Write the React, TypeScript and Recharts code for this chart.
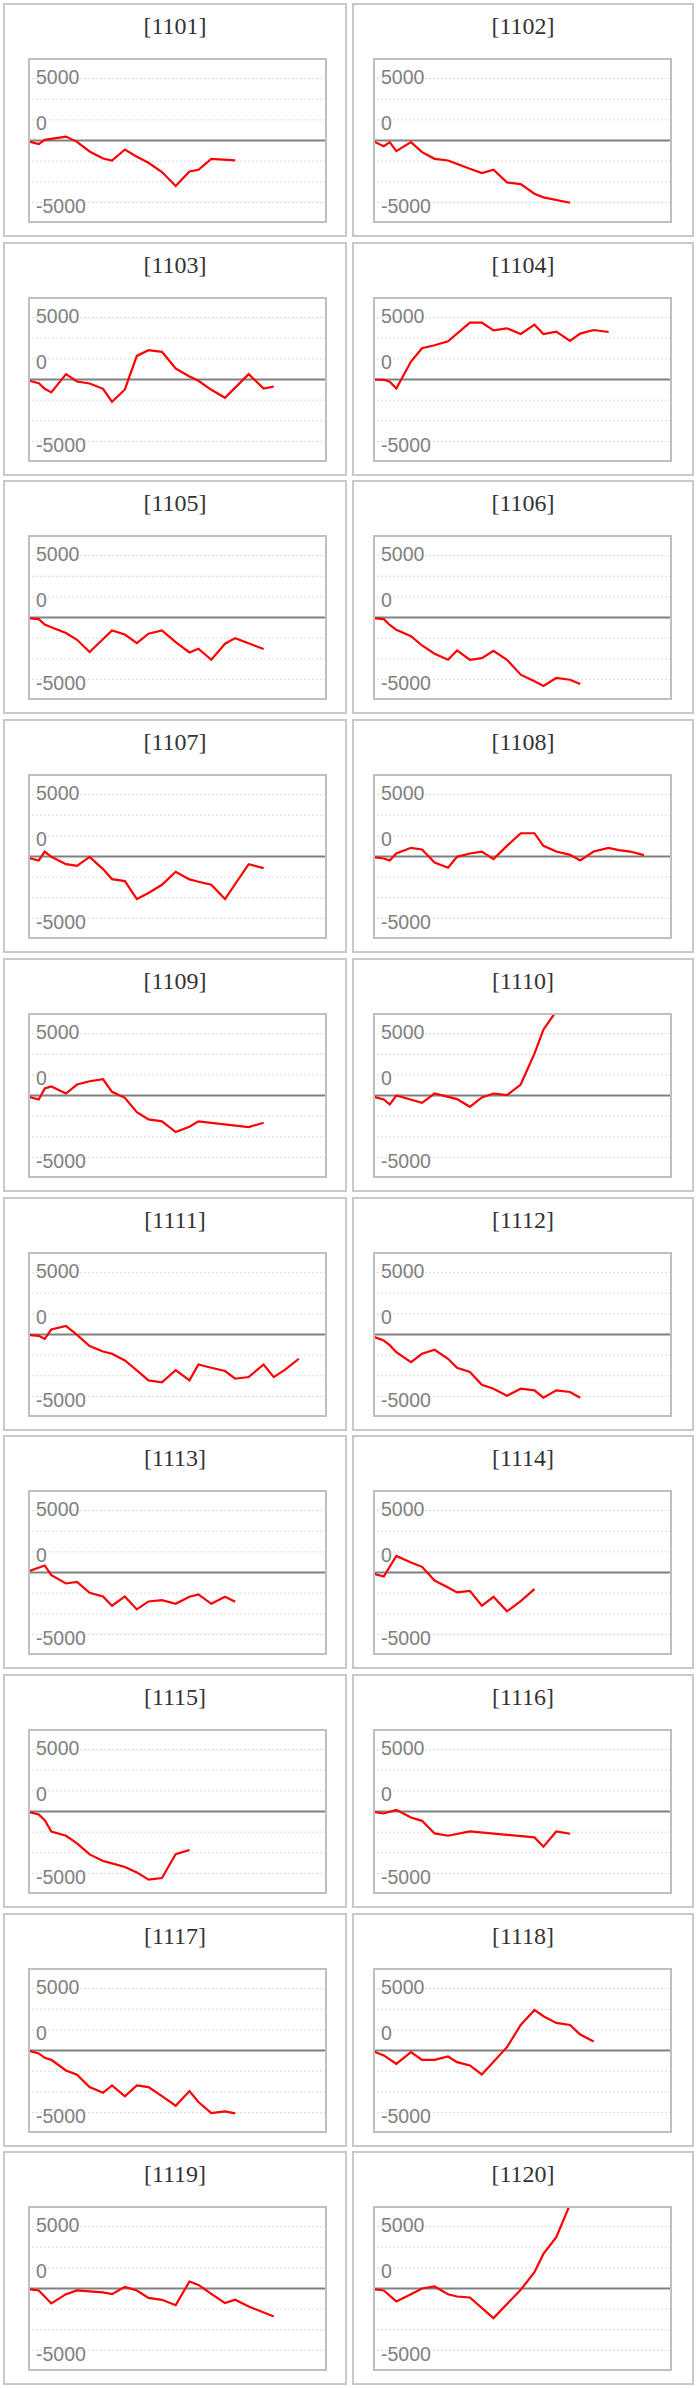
import React from 'react'
import { LineChart, Line, XAxis, YAxis, ReferenceLine } from 'recharts'

// sample times, as a percentage of the plot width
const TIMES = [
  0, 3.6, 5.6, 7.8, 12.7, 16.4, 20.6, 25.1, 28.1, 32.4, 36.4, 40.3,
  44.8, 49.4, 54, 57, 61.3, 65.9, 69.3, 73.8, 78.8, 82.2, 86, 90.6,
]

type V = number | null

const S1101: V[] = [-100, -440, 80, null, 480, -160, -1330, -2180, -2420, -1090, -1970, -2700, -3830, -5520, -3750, -3550, -2220, null, -2420]
const S1102: V[] = [-80, -690, -200, -1290, -200, -1410, -2220, -2420, null, -3430, -3950, -3550, -5080, -5280, -6450, -6890, null, -7540]
const S1103: V[] = [-120, -440, -1130, -1570, 650, -240, -480, -1130, -2700, -1210, 2860, 3550, 3350, 1330, 360, -160, -1250, -2220, null, 650, -1090, -850]
const S1104: V[] = [0, -40, -280, -1090, 2180, 3790, 4150, 4640, null, 6890, 6890, 5960, 6200, 5520, 6650, 5520, 5800, 4670, 5560, 6000, 5760]
const S1105: V[] = [-80, -200, -850, -1170, -1890, -2700, -4190, null, -1570, -2060, -3100, -1970, -1570, -2980, -4230, -3790, -5120, -3180, -2500, null, -3830]
const S1106: V[] = [-80, -200, -900, -1500, -2260, -3390, -4390, -5120, -3990, -5120, -4920, -4030, -5120, -6930, -7740, -8300, -7330, -7540, -8060]
const S1107: V[] = [-160, -480, 600, -40, -930, -1130, -40, -1530, -2740, -2980, -5160, -4430, -3430, -1850, -2780, -3060, -3430, -5160, null, -930, -1410]
const S1108: V[] = [-80, -240, -480, 360, 1050, 850, -730, -1370, -40, 360, 600, -320, 1290, 2820, 2820, 1290, 600, 200, -480, 600, 1050, 770, 600, 160]
const S1109: V[] = [-120, -480, 850, 1090, 240, 1330, 1730, 1970, 440, -280, -2010, -2900, -3140, -4430, -3790, -3140, null, null, null, -3830, -3300]
const S1110: V[] = [-120, -480, -1090, 0, null, -890, 240, -160, -440, -1370, -240, 240, 40, 1330, 5080, 7980, 10240]
const S1111: V[] = [-40, -160, -520, 600, 1050, -40, -1410, -2060, -2340, -3140, -4350, -5560, -5800, -4310, -5560, -3630, -4030, -4430, -5360, -5160, -3630, -5160, -4270, -2940]
const S1112: V[] = [-240, -730, -1290, -2140, -3340, -2340, -1850, -2940, -4030, -4550, -6090, -6570, -7420, -6570, -6770, -7660, -6770, -6970, -7660]
const S1113: V[] = [120, null, 850, -320, -1330, -1130, -2460, -2900, -4030, -2900, -4470, -3510, -3350, -3790, -2940, -2660, -3790, -2940, -3550]
const S1114: V[] = [-120, -480, null, 2010, 1210, 690, -970, -1810, -2420, -2220, -4030, -2940, -4710, -3470, -2020]
const S1115: V[] = [-40, -360, -1050, -2420, -2940, -3870, -5200, -6010, -6290, -6730, -7380, -8260, -8060, -5160, -4670]
const S1116: V[] = [-40, -240, null, 200, -730, -1130, -2660, -2940, null, -2420, null, null, null, null, -3140, -4270, -2420, -2700]
const S1117: V[] = [0, -360, -890, -1130, -2420, -2940, -4430, -5120, -4230, -5560, -4230, -4430, -5520, -6690, -4920, -6250, -7580, -7380, -7620]
const S1118: V[] = [-80, -600, null, -1610, -200, -1130, -1130, -730, -1410, -1810, -2900, null, 400, 3100, 4920, 4150, 3350, 3100, 1930, 1090]
const S1119: V[] = [-80, -240, null, -1810, -690, -240, -360, -480, -690, 200, -240, -1130, -1370, -2020, 850, 440, -640, -1770, -1370, -2180, null, -3390]
const S1120: V[] = [-80, -240, null, -1570, -690, 0, 240, -690, -970, -1090, null, -3590, null, -160, 1970, 4190, 6210, 10200]

const CODES = [
  '1101', '1102', '1103', '1104', '1105', '1106', '1107', '1108', '1109', '1110',
  '1111', '1112', '1113', '1114', '1115', '1116', '1117', '1118', '1119', '1120',
]
const SERIES = [
  S1101, S1102, S1103, S1104, S1105, S1106, S1107, S1108, S1109, S1110,
  S1111, S1112, S1113, S1114, S1115, S1116, S1117, S1118, S1119, S1120,
]

const Y_TICKS = [5000, 0, -5000]
const GRID_VALUES = [7500, 5000, 2500, -2500, -5000, -7500]

const PLOT_W = 299
const PLOT_H = 165
// the labels sit off their gridlines in the original
const TICK_SHIFT: Record<string, number> = { '5000': -15.3, '0': -10.5, '-5000': 31.5 }

const COLS = [
  { left: 3, width: 344, plotLeft: 25 },
  { left: 352, width: 342, plotLeft: 21 },
]

function YTick({ y, payload }: any) {
  return (
    <text
      x={8}
      y={y + (TICK_SHIFT[String(payload.value)] ?? 0)}
      fill="#808080"
      fontSize={19.5}
      fontFamily="'Liberation Sans', Arial, sans-serif"
    >
      {payload.value}
    </text>
  )
}

function Panel({ code, values, col, row }: { code: string; values: V[]; col: number; row: number }) {
  const c = COLS[col]
  const top = Math.round(3 + row * 238.7)
  const data = TIMES.map((t, i) => ({ t, v: i < values.length ? values[i] : null }))

  return (
    <div
      style={{
        position: 'absolute', left: c.left, top, width: c.width, height: 234,
        boxSizing: 'border-box', border: '2px solid #c9c9c9', background: '#fff',
      }}
    >
      <div
        style={{
          position: 'absolute', top: 9, left: 0, right: 0, textAlign: 'center',
          fontFamily: "'Liberation Serif', 'Times New Roman', serif",
          fontSize: 24, lineHeight: '24px', color: '#333',
        }}
      >
        [{code}]
      </div>
      <div style={{ position: 'absolute', left: c.plotLeft - 2, top: 53, width: PLOT_W, height: PLOT_H }}>
        <LineChart width={PLOT_W} height={PLOT_H} data={data} margin={{ top: 0, right: 0, bottom: 0, left: 0 }}>
          <XAxis dataKey="t" type="number" domain={[0, 100]} hide />
          <YAxis
            type="number"
            domain={[-10000, 10000]}
            allowDataOverflow
            ticks={Y_TICKS}
            mirror
            width={60}
            axisLine={false}
            tickLine={false}
            tick={<YTick />}
          />
          {GRID_VALUES.map((g) => (
            <ReferenceLine key={g} y={g} stroke="#d8d8d8" strokeDasharray="2 2" />
          ))}
          <ReferenceLine y={0} stroke="#808080" strokeWidth={2} />
          <Line
            type="linear"
            dataKey="v"
            stroke="#ff0000"
            strokeWidth={2.2}
            dot={false}
            connectNulls
            isAnimationActive={false}
          />
        </LineChart>
        <div
          style={{
            position: 'absolute', left: 0, top: 0, width: PLOT_W, height: PLOT_H,
            boxSizing: 'border-box', border: '2px solid #bfbfbf', pointerEvents: 'none',
          }}
        />
      </div>
    </div>
  )
}

export default function App() {
  return (
    <div style={{ position: 'relative', width: 699, height: 2388, background: '#fff' }}>
      <style>{'body{margin:0}'}</style>
      {CODES.map((code, i) => (
        <Panel key={code} code={code} values={SERIES[i]} col={i % 2} row={Math.floor(i / 2)} />
      ))}
    </div>
  )
}
